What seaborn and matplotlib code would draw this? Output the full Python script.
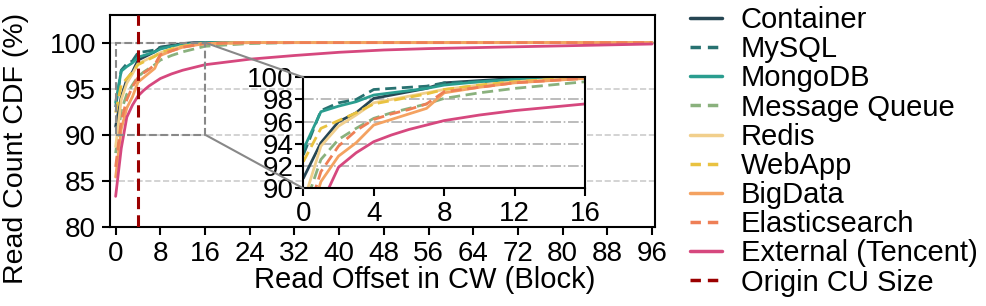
import matplotlib
matplotlib.use("Agg")
import matplotlib.pyplot as plt
from matplotlib.lines import Line2D
from matplotlib.patches import Rectangle, ConnectionPatch
import pandas as pd
import seaborn as sns

# read offsets (blocks) at which the CDF was sampled
offsets = [0, 1, 2, 3, 4, 5, 6, 7, 8, 10, 12, 14, 16, 24, 32, 40, 48, 56, 64, 72, 80, 88, 96]

container = [90.9, 94.1, 96.0, 96.8, 98.1, 98.4, 98.7, 99.0, 99.5, 99.7, 99.9, 100, 100,
             100, 100, 100, 100, 100, 100, 100, 100, 100, 100]
mysql = [93.0, 97.0, 97.7, 98.0, 98.9, 99.0, 99.1, 99.2, 99.5, 99.6, 99.8, 99.9, 100,
         100, 100, 100, 100, 100, 100, 100, 100, 100, 100]
mongodb = [93.5, 96.9, 97.4, 97.8, 98.4, 98.6, 98.8, 99.0, 99.3, 99.6, 99.8, 99.9, 100,
           100, 100, 100, 100, 100, 100, 100, 100, 100, 100]
message_queue = [88.0, 92.6, 94.4, 95.4, 96.3, 96.8, 97.2, 97.6, 98.1, 98.6, 99.0, 99.3, 99.6,
                 99.9, 100, 100, 100, 100, 100, 100, 100, 100, 100]
redis = [88.7, 93.8, 95.6, 96.6, 97.7, 98.0, 98.3, 98.6, 98.9, 99.3, 99.6, 99.8, 99.9,
         100, 100, 100, 100, 100, 100, 100, 100, 100, 100]
webapp = [92.4, 95.4, 96.1, 96.8, 97.6, 97.9, 98.2, 98.5, 98.9, 99.3, 99.6, 99.8, 99.9,
          100, 100, 100, 100, 100, 100, 100, 100, 100, 100]
bigdata = [85.4, 90.6, 92.9, 94.1, 95.7, 96.2, 96.7, 97.2, 98.6, 99.1, 99.5, 99.7, 99.9,
           100, 100, 100, 100, 100, 100, 100, 100, 100, 100]
elasticsearch = [86.5, 91.5, 93.8, 95.2, 96.2, 96.7, 97.1, 97.6, 98.7, 99.1, 99.5, 99.7, 99.9,
                 100, 100, 100, 100, 100, 100, 100, 100, 100, 100]
external = [83.3, 88.5, 91.9, 93.2, 94.2, 94.8, 95.3, 95.7, 96.1, 96.6, 97.0, 97.3, 97.6,
            98.2, 98.6, 98.95, 99.2, 99.35, 99.45, 99.55, 99.65, 99.75, 99.85]

workloads = ["Container", "MySQL", "MongoDB", "Message Queue", "Redis",
             "WebApp", "BigData", "Elasticsearch", "External (Tencent)"]
series = [container, mysql, mongodb, message_queue, redis,
          webapp, bigdata, elasticsearch, external]
colors = ["#264653", "#287271", "#2a9d8f", "#8ab17d", "#f1cf8c",
          "#e9c240", "#f4a261", "#ee7f56", "#d6487e"]
dashed = [False, True, False, True, False, True, False, True, False]

origin_cu = 4

df = pd.DataFrame({
    "offset": offsets * len(workloads),
    "cdf": [v for s in series for v in s],
    "workload": [w for w in workloads for _ in offsets],
})
palette = dict(zip(workloads, colors))
dash_map = {w: ((4, 2) if d else "") for w, d in zip(workloads, dashed)}

sns.set_style("ticks")
plt.rcParams["font.family"] = ["Liberation Sans", "DejaVu Sans"]
plt.rcParams["font.size"] = 21
plt.rcParams["text.color"] = "black"
plt.rcParams["axes.labelcolor"] = "black"
plt.rcParams["xtick.color"] = "black"
plt.rcParams["ytick.color"] = "black"

fig = plt.figure(figsize=(9.87, 3.06), dpi=100)
ax = fig.add_axes([0.1115, 0.259, 0.552, 0.692])

sns.lineplot(data=df, x="offset", y="cdf", hue="workload", style="workload",
             palette=palette, dashes=dash_map, linewidth=2, legend=False, ax=ax)
ax.axvline(origin_cu, color="#9b0000", ls="--", lw=2.2, dashes=(4, 2), zorder=5)

ax.set_xlim(-1, 96.5)
ax.set_ylim(80, 103)
ax.set_xticks(range(0, 97, 8))
ax.set_yticks(range(80, 101, 5))
ax.yaxis.grid(True, ls="--", color="#cccccc", lw=1.2)
ax.set_xlabel("Read Offset in CW (Block)")
ax.set_ylabel("Read Count CDF (%)", fontsize=20.5)
ax.xaxis.set_label_coords(0.578, -0.185)
ax.yaxis.set_label_coords(-0.148, 0.37)
for sp in ax.spines.values():
    sp.set_linewidth(1.5)
    sp.set_color("black")
ax.tick_params(width=1.5, length=6, labelsize=20)
ax.tick_params(axis="x", pad=4)
ax.tick_params(axis="y", pad=4)

# zoom box on the main axes
ax.add_patch(Rectangle((0, 90), 16, 10, fill=False, ec="#888888", ls="--", lw=1.5, zorder=4))

axins = fig.add_axes([0.3073, 0.3846, 0.2854, 0.3628])
sns.lineplot(data=df, x="offset", y="cdf", hue="workload", style="workload",
             palette=palette, dashes=dash_map, linewidth=2, legend=False, ax=axins)
axins.set_xlim(0, 16)
axins.set_ylim(90, 100)
axins.set_xticks([0, 4, 8, 12, 16])
axins.set_yticks(range(90, 101, 2))
axins.yaxis.grid(True, ls="-.", color="#b0b0b0", lw=1.2)
axins.set_xlabel("")
axins.set_ylabel("")
for sp in axins.spines.values():
    sp.set_linewidth(1.5)
    sp.set_color("black")
axins.tick_params(width=1.5, length=6, labelsize=20)
axins.tick_params(axis="x", pad=3)
axins.tick_params(axis="y", pad=1)

for ya, yb in [(100, 1), (90, 0)]:
    con = ConnectionPatch(xyA=(16, ya), coordsA=ax.transData,
                          xyB=(0, yb), coordsB=axins.transAxes,
                          color="#888888", lw=1.5)
    fig.add_artist(con)

handles = [Line2D([], [], color=c, lw=2.5, ls="--" if d else "-", dashes=(3, 2) if d else (None, None))
           for c, d in zip(colors, dashed)]
handles.append(Line2D([], [], color="#9b0000", lw=2.5, ls="--", dashes=(3, 2)))
labels = workloads + ["Origin CU Size"]
fig.legend(handles, labels, loc="upper left", bbox_to_anchor=(0.699, 0.98),
           frameon=False, fontsize=21, handlelength=1.1, handletextpad=0.65,
           labelspacing=0.04, borderpad=0, borderaxespad=0)

fig.savefig("out.png", dpi=100)
